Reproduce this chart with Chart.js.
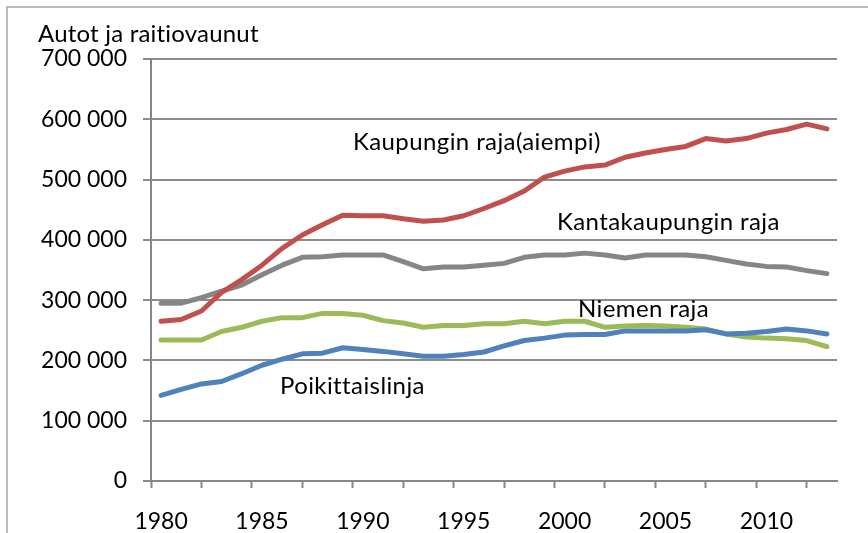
<!DOCTYPE html>
<html>
<head>
<meta charset="utf-8">
<script src="https://cdn.jsdelivr.net/npm/chart.js@4/dist/chart.umd.min.js"></script>
<style>
  html, body { margin: 0; padding: 0; background: #fff; }
  #wrap { width: 868px; height: 533px; position: relative; }
</style>
</head>
<body>
<div id="wrap"><canvas id="chart" width="868" height="533"></canvas></div>
<script>
const years = [1980,1981,1982,1983,1984,1985,1986,1987,1988,1989,1990,1991,1992,1993,1994,1995,1996,
               1997,1998,1999,2000,2001,2002,2003,2004,2005,2006,2007,2008,2009,2010,2011,2012,2013];

// values (vehicles per day)
const kaupunginRaja = [265000,268000,282000,313000,334000,358000,386000,408000,425000,441000,440000,440000,
                       435000,431000,433000,440000,452000,465000,481000,504000,514000,521000,524000,537000,
                       544000,550000,555000,568000,564000,568000,577000,583000,592000,584000];
const kantakaupunginRaja = [295000,295000,304000,315000,325000,342000,358000,371000,372000,375000,375000,375000,
                            364000,352000,355000,355000,358000,361000,371000,375000,375000,378000,375000,370000,
                            375000,375000,375000,372000,366000,360000,356000,355000,349000,344000];
const niemenRaja = [234000,234000,234000,248000,255000,265000,271000,271000,278000,278000,275000,266000,
                    262000,255000,258000,258000,261000,261000,265000,261000,265000,265000,255000,257000,
                    258000,257000,255000,252000,244000,239000,237000,236000,233000,223000];
const poikittaislinja = [142000,152000,161000,165000,178000,192000,202000,211000,212000,221000,218000,215000,
                         211000,207000,207000,210000,214000,224000,233000,237000,242000,243000,243000,249000,
                         249000,249000,249000,251000,244000,245000,248000,252000,249000,244000];

const yTicks = [0,100000,200000,300000,400000,500000,600000,700000];
const xLabelYears = [1980,1985,1990,1995,2000,2005,2010];

const seriesLabels = [
  { text: 'Kaupungin raja(aiempi)', x: 353, y: 150 },
  { text: 'Kantakaupungin raja', x: 557, y: 230 },
  { text: 'Niemen raja', x: 578, y: 317 },
  { text: 'Poikittaislinja', x: 280, y: 394 }
];
const yTitle = 'Autot ja raitiovaunut';

const pts = arr => arr.map((v, i) => ({ x: years[i], y: v }));
const fmt = v => String(v).replace(/\B(?=(\d{3})+(?!\d))/g, ' ');

const textPlugin = {
  id: 'texts',
  beforeDraw(chart) {
    const c = chart.ctx;
    c.save();
    c.strokeStyle = '#a6a6a6';
    c.lineWidth = 1.5;
    c.strokeRect(7, 7, 1000, 1000);
    c.restore();
  },
  afterDatasetsDraw(chart) {
    const c = chart.ctx;
    c.save();
    c.fillStyle = '#000';
    c.textBaseline = 'alphabetic';
    c.textAlign = 'left';
    c.font = '24px Lato';
    // a tiny spacing keeps Lato from joining "ti" into a ligature
    c.letterSpacing = '0.2px';
    c.fillText(yTitle, 38, 42);
    c.letterSpacing = '0.4px';
    seriesLabels.forEach(l => c.fillText(l.text, l.x, l.y));
    c.restore();
  }
};

const line = (data, color) => ({
  data: pts(data),
  borderColor: color,
  borderWidth: 5,
  borderCapStyle: 'round',
  borderJoinStyle: 'round',
  pointRadius: 0,
  tension: 0,
  fill: false
});

new Chart(document.getElementById('chart'), {
  type: 'line',
  data: {
    datasets: [
      line(poikittaislinja, '#4f81bd'),
      line(niemenRaja, '#9bbb59'),
      line(kaupunginRaja, '#c0504d'),
      line(kantakaupunginRaja, '#868686')
    ]
  },
  options: {
    responsive: false,
    animation: false,
    layout: { padding: { top: 59, right: 31, left: 0, bottom: 0 } },
    plugins: { legend: { display: false }, tooltip: { enabled: false }, title: { display: false } },
    scales: {
      x: {
        type: 'linear',
        min: 1979.5,
        max: 2013.5,
        afterFit: s => { s.height = 52; },
        border: { color: '#868686', width: 2 },
        grid: {
          drawOnChartArea: false,
          tickLength: 7,
          tickWidth: 2,
          tickColor: ctx => (Math.abs(((ctx.tick.value - 1979.5) / 2.5) % 1) < 1e-6 ? '#868686' : 'rgba(0,0,0,0)')
        },
        ticks: {
          stepSize: 0.5,
          autoSkip: false,
          maxRotation: 0,
          padding: 20,
          color: '#000',
          font: { family: 'Lato', size: 23 },
          callback: v => (xLabelYears.includes(v) ? String(v) : '')
        }
      },
      y: {
        min: 0,
        max: 700000,
        afterFit: s => { s.width = 151; },
        afterBuildTicks: s => { s.ticks = yTicks.map(v => ({ value: v })); },
        border: { color: '#868686', width: 2 },
        grid: { color: '#8c8c8c', lineWidth: 2, tickLength: 8 },
        ticks: {
          padding: 16,
          color: '#000',
          font: { family: 'Lato', size: 23 },
          callback: v => fmt(v)
        }
      }
    }
  },
  plugins: [textPlugin]
});
</script>
</body>
</html>
